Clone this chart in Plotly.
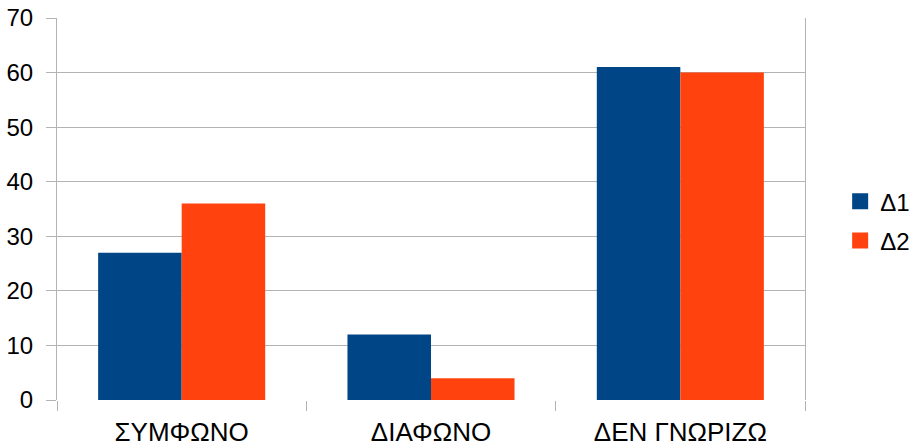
import plotly.graph_objects as go

categories = ["ΣΥΜΦΩΝΟ", "ΔΙΑΦΩΝΟ", "ΔΕΝ ΓΝΩΡΙΖΩ"]
d1_values = [27, 12, 61]
d2_values = [36, 4, 60]
series_names = ["Δ1", "Δ2"]
y_ticks = [0, 10, 20, 30, 40, 50, 60, 70]

colors = ["#004586", "#ff420e"]
grid = "#b3b3b3"
family = "Liberation Sans, Arial, sans-serif"
font = dict(family=family, size=26, color="#000000")
small_font = dict(family=family, size=24, color="#000000")

fig = go.Figure()
for name, vals, col in zip(series_names, [d1_values, d2_values], colors):
    fig.add_trace(go.Bar(x=categories, y=vals, name=name, showlegend=False,
                         marker=dict(color=col, line=dict(width=0))))
# legend keys drawn as larger square swatches
for name, col in zip(series_names, colors):
    fig.add_trace(go.Scatter(x=[None], y=[None], name=name, mode="markers",
                             legendgroup=name,
                             marker=dict(symbol="square", size=16, color=col)))

fig.update_layout(
    width=911, height=448,
    margin=dict(l=57, r=106, t=18, b=48, autoexpand=False),
    paper_bgcolor="white", plot_bgcolor="white",
    font=font,
    barmode="group", bargap=0.33, bargroupgap=0,
    showlegend=True,
    legend=dict(x=1.047, y=0.468, xanchor="left", yanchor="middle",
                font=small_font, bgcolor="rgba(0,0,0,0)",
                traceorder="grouped", tracegroupgap=5),
)
fig.update_xaxes(
    tickson="boundaries", ticks="outside", ticklen=10, tickcolor=grid, tickwidth=1,
    showgrid=False, showline=False, zeroline=False, automargin=False,
    ticklabelstandoff=14, tickfont=font,
)
fig.update_yaxes(
    range=[0, 70], tickvals=y_ticks, ticks="outside", ticklen=10, tickcolor=grid,
    showgrid=True, gridcolor=grid, gridwidth=1,
    showline=True, linecolor=grid, linewidth=1, mirror=True,
    zeroline=False, ticklabelstandoff=8, automargin=False, tickfont=small_font,
)

fig.write_html("out.html")
